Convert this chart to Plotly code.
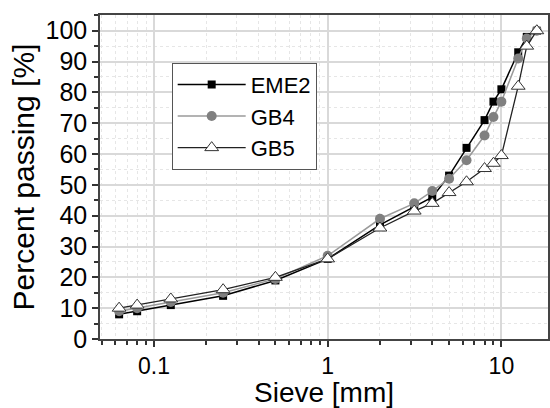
import plotly.graph_objects as go
import math

sieve = [0.063, 0.08, 0.125, 0.25, 0.5, 1, 2, 3.15, 4, 5, 6.3, 8, 9, 10, 12.5, 14, 16]
eme2 = [8, 9, 11, 14, 19, 26, 37, 43, 46, 53, 62, 71, 77, 81, 93, 98, 100]
gb4 = [9, 10, 12, 15, 19.5, 27, 39, 44, 48, 52, 58, 66, 72, 77, 91, 97.5, 100]
gb5 = [10, 11, 13, 16, 20, 26, 36, 41.5, 44, 47.5, 51, 55.3, 57, 59.5, 82, 95, 100]

FONT = "Liberation Sans, Arial, sans-serif"

fig = go.Figure()
fig.add_trace(go.Scatter(x=sieve, y=eme2, name="EME2", mode="lines+markers",
                         line=dict(color="black", width=1.5),
                         marker=dict(symbol="square", size=8, color="black")))
fig.add_trace(go.Scatter(x=sieve, y=gb4, name="GB4", mode="lines+markers",
                         line=dict(color="#9a9a9a", width=1.5),
                         marker=dict(symbol="circle", size=10, color="#808080")))
fig.add_trace(go.Scatter(x=sieve, y=gb5, name="GB5", mode="lines+markers",
                         line=dict(color="#222222", width=1.3),
                         marker=dict(symbol="triangle-up", size=12, color="white",
                                     line=dict(color="#333333", width=1))))

fig.update_layout(
    width=550, height=408,
    margin=dict(l=100, r=0, t=15, b=69),
    paper_bgcolor="white", plot_bgcolor="white",
    font=dict(family=FONT, color="black", size=22),
    showlegend=True,
    legend=dict(x=0.16, y=0.853, xanchor="left", yanchor="top",
                bgcolor="white", bordercolor="#555555", borderwidth=1,
                font=dict(size=22, family=FONT), itemwidth=68,
                tracegroupgap=0),
)
fig.update_xaxes(
    type="log", range=[math.log10(0.0489), math.log10(18.55)],
    tickvals=[0.1, 1, 10], ticktext=["0.1", "1", "10"],
    ticks="outside", ticklen=6, tickcolor="#333", tickwidth=1.5,
    showline=True, linecolor="#444", linewidth=1.5, mirror=True,
    showgrid=True, gridcolor="#d9d9d9", gridwidth=1.5,
    tickfont=dict(size=23), zeroline=False, ticklabelstandoff=0,
    title=dict(text="Sieve [mm]", font=dict(size=28), standoff=7),
    minor=dict(tickvals=[m * 10 ** e for e in (-2, -1, 0, 1) for m in range(2, 10)],
               ticks="outside", ticklen=4, tickcolor="#333",
               showgrid=True, gridcolor="#e6e6e6", griddash="dot", gridwidth=1),
)
fig.update_yaxes(
    range=[0, 105.1], dtick=10, tick0=0,
    ticks="outside", ticklen=6, tickcolor="#333", tickwidth=1.5,
    showline=True, linecolor="#444", linewidth=1.5, mirror=True,
    showgrid=True, gridcolor="#d9d9d9", gridwidth=1.5,
    tickfont=dict(size=25), zeroline=False,
    title=dict(text="Percent passing [%]", font=dict(size=30), standoff=2),
    minor=dict(dtick=5, ticks="outside", ticklen=4, tickcolor="#333",
               showgrid=True, gridcolor="#e6e6e6", griddash="dot", gridwidth=1),
)

fig.write_html("out.html")
